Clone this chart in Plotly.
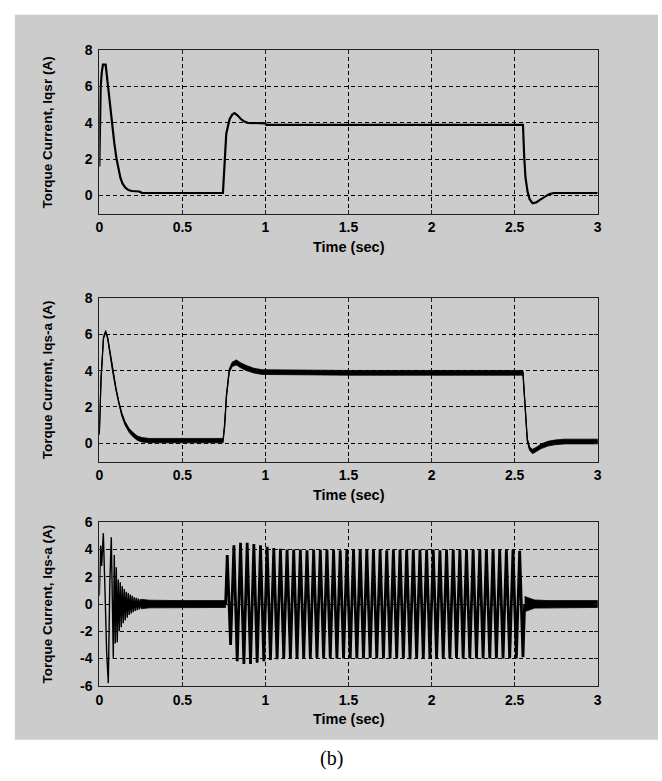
import numpy as np
import plotly.graph_objects as go

W, H = 662, 781

# ---------------- Panel 1: rotor torque current Iqsr ----------------
iqsr_t = [0.000, 0.004, 0.008, 0.015, 0.022, 0.038, 0.045, 0.050, 0.065, 0.079,
          0.090, 0.103, 0.115, 0.127, 0.140, 0.157, 0.175, 0.196, 0.240, 0.256,
          0.744, 0.752, 0.764, 0.784, 0.800, 0.814, 0.833, 0.853, 0.873, 0.893,
          0.950, 1.000, 1.005, 2.550, 2.557, 2.565, 2.577, 2.590, 2.608, 2.630,
          2.650, 2.670, 2.690, 2.710, 2.735, 3.000]
iqsr_v = [1.6, 5.0, 6.0, 6.8, 7.2, 7.2, 6.6, 6.0, 4.9, 3.85,
          2.9, 2.05, 1.45, 0.97, 0.65, 0.43, 0.30, 0.25, 0.22, 0.15,
          0.14, 1.45, 3.4, 4.2, 4.45, 4.53, 4.4, 4.2, 4.07, 4.0,
          3.97, 3.97, 3.89, 3.89, 2.2, 1.0, 0.25, -0.2, -0.43, -0.38,
          -0.25, -0.12, -0.02, 0.08, 0.14, 0.14]

# ---------------- Panel 2: measured torque current Iqs-a ----------------
iqsa_t = [0.000, 0.010, 0.025, 0.038, 0.050, 0.065, 0.080, 0.100, 0.118, 0.135,
          0.155, 0.180, 0.206, 0.230, 0.256, 0.300, 0.745, 0.755, 0.765, 0.782,
          0.800, 0.825, 0.850, 0.883, 0.930, 0.980, 1.500, 2.550, 2.556, 2.563,
          2.576, 2.590, 2.608, 2.630, 2.660, 2.700, 2.740, 2.800, 3.000]
iqsa_v = [0.5, 3.5, 5.8, 6.15, 5.8, 4.9, 4.0, 3.0, 2.2, 1.6,
          1.1, 0.7, 0.45, 0.28, 0.2, 0.15, 0.15, 1.0, 2.6, 4.0,
          4.35, 4.45, 4.3, 4.15, 4.0, 3.92, 3.88, 3.88, 3.0, 2.0,
          0.2, -0.3, -0.45, -0.35, -0.16, -0.02, 0.05, 0.1, 0.1]
# half-width of the ripple riding on the measured current
iqsa_ripple = [0.05, 0.05, 0.05, 0.06, 0.06, 0.07, 0.08, 0.08, 0.09, 0.10,
               0.10, 0.11, 0.12, 0.12, 0.12, 0.12, 0.12, 0.08, 0.08, 0.10,
               0.12, 0.14, 0.14, 0.14, 0.13, 0.13, 0.13, 0.13, 0.08, 0.06,
               0.08, 0.10, 0.12, 0.13, 0.13, 0.13, 0.13, 0.13, 0.13]

# ---------------- Panel 3: phase current ----------------
# start-up transient (successive extrema)
start_t = [0.000, 0.008, 0.014, 0.024, 0.034, 0.044, 0.054, 0.063, 0.072, 0.078,
           0.084, 0.090, 0.096, 0.102, 0.108, 0.114, 0.120, 0.126, 0.132, 0.138,
           0.144, 0.150, 0.156, 0.162, 0.168, 0.174, 0.180, 0.186, 0.192, 0.198,
           0.204, 0.210, 0.216, 0.222, 0.228, 0.234, 0.240, 0.246, 0.252]
start_v = [0.6, 4.3, 2.8, 5.2, 1.0, -3.5, -5.8, 1.5, 4.9, -2.0,
           -4.0, 3.6, -2.9, 2.7, -2.8, 1.8, -2.0, 1.6, -1.7, 1.3,
           -1.4, 1.1, -1.2, 0.9, -1.0, 0.8, -0.8, 0.7, -0.7, 0.6,
           -0.6, 0.5, -0.5, 0.45, -0.45, 0.4, -0.4, 0.35, -0.3]

# loaded interval: one positive and one negative extremum per cycle
burst_begin, burst_end, half_period = 0.760, 2.560, 0.020
burst_peaks = [3.6, 4.3, 4.5, 4.5, 4.4, 4.3, 4.2, 4.1, 4.05, 4.0,
               4.0, 4.0, 3.95, 4.0, 4.0, 4.0, 4.0, 3.95, 4.0, 4.0,
               4.0, 4.0, 4.0, 4.0, 3.95, 4.0, 4.0, 4.0, 4.0, 4.0,
               4.0, 4.0, 3.95, 4.0, 4.0, 4.0, 4.0, 4.0, 4.0, 4.0,
               4.0, 4.0, 4.0, 4.0, 3.9]
burst_troughs = [-3.0, -4.2, -4.4, -4.4, -4.3, -4.2, -4.1, -4.05, -4.0, -4.0,
                 -4.0, -4.0, -4.0, -3.95, -4.0, -4.0, -4.0, -4.0, -4.0, -4.0,
                 -4.0, -3.95, -4.0, -4.0, -4.0, -4.0, -4.0, -4.05, -4.0, -4.0,
                 -4.0, -4.0, -4.0, -4.0, -3.95, -4.0, -4.0, -4.0, -4.0, -4.0,
                 -4.0, -4.0, -4.0, -4.0, -3.9]

# ripple bands where the phase current is near zero
quiet_t = [[0.250, 0.300, 0.500, 0.760], [2.560, 2.575, 2.620, 2.700, 3.000]]
quiet_hw = [[0.35, 0.28, 0.25, 0.25], [0.55, 0.50, 0.30, 0.25, 0.25]]

x_ticks = [0, 0.5, 1, 1.5, 2, 2.5, 3]
x_labels = ["0", "0.5", "1", "1.5", "2", "2.5", "3"]
y_ticks_a = [0, 2, 4, 6, 8]
y_ticks_b = [-6, -4, -2, 0, 2, 4, 6]

y_titles = ["Torque Current, Iqsr (A)",
            "Torque Current, Iqs-a (A)",
            "Torque Current, Iqs-a (A)"]

# ---------------- layout geometry (pixels) ----------------
ax_left, ax_right = 96.5, 601.0
panels_px = [(43, 210), (296, 463), (525, 692)]   # (top, bottom)

def px_x(p):
    return p / W

def px_y(p):
    return 1 - p / H

TICK_FONT = dict(family="Liberation Sans, Arial", size=14, color="black", weight="bold")
TITLE_FONT = dict(family="Liberation Sans, Arial", size=13.5, color="black", weight="bold")
XTITLE_FONT = dict(family="Liberation Sans, Arial", size=14.5, color="black", weight="bold")

fig = go.Figure()

def band(t, c, hw):
    t = list(t)
    up = [a + b for a, b in zip(c, hw)]
    lo = [a - b for a, b in zip(c, hw)]
    return t + t[::-1], up + lo[::-1]

# panel 1
fig.add_trace(go.Scatter(x=iqsr_t, y=iqsr_v, mode="lines",
                         line=dict(color="black", width=2.2),
                         xaxis="x", yaxis="y", showlegend=False))

# panel 2: ripple band + centre line
bx, by = band(iqsa_t, iqsa_v, iqsa_ripple)
fig.add_trace(go.Scatter(x=bx, y=by, mode="lines", fill="toself",
                         fillcolor="black", line=dict(color="black", width=0.8),
                         xaxis="x2", yaxis="y2", showlegend=False))
fig.add_trace(go.Scatter(x=iqsa_t, y=iqsa_v, mode="lines",
                         line=dict(color="black", width=1.3),
                         xaxis="x2", yaxis="y2", showlegend=False))

# panel 3: start-up transient
fig.add_trace(go.Scatter(x=start_t, y=start_v, mode="lines",
                         line=dict(color="black", width=1.4),
                         xaxis="x3", yaxis="y3", showlegend=False))

# panel 3: loaded interval
ext_v = []
for p, q in zip(burst_peaks, burst_troughs):
    ext_v += [p, q]
ext_t = list(burst_begin + half_period * (0.5 + np.arange(len(ext_v))))
burst_t = [burst_begin] + ext_t + [burst_end]
burst_v = [0.0] + ext_v + [0.0]
fig.add_trace(go.Scatter(x=burst_t, y=burst_v, mode="lines",
                         line=dict(color="black", width=2.8),
                         xaxis="x3", yaxis="y3", showlegend=False))

# panel 3: ripple around zero
for qt, qh in zip(quiet_t, quiet_hw):
    bx, by = band(qt, [0.0] * len(qt), qh)
    fig.add_trace(go.Scatter(x=bx, y=by, mode="lines", fill="toself",
                             fillcolor="black", line=dict(color="black", width=0.8),
                             xaxis="x3", yaxis="y3", showlegend=False))

axis_common = dict(showline=True, mirror="ticks", linecolor="#202020", linewidth=1,
                   ticks="inside", ticklen=4, tickcolor="#202020",
                   showgrid=True, gridcolor="black", gridwidth=1, griddash="4px,3px",
                   zeroline=False, tickfont=TICK_FONT, fixedrange=True)

layout = dict(width=W, height=H, margin=dict(l=0, r=0, t=0, b=0),
              paper_bgcolor="white", plot_bgcolor="white", showlegend=False)

y_ranges = [[-1, 8], [-1, 8], [-6, 6]]
y_tickvals = [y_ticks_a, y_ticks_a, y_ticks_b]
annotations = []
for i, ((top, bot), yr, ytv, ytitle) in enumerate(zip(panels_px, y_ranges, y_tickvals, y_titles)):
    sfx = "" if i == 0 else str(i + 1)
    layout["xaxis" + sfx] = dict(axis_common, domain=[px_x(ax_left), px_x(ax_right)],
                                 range=[0, 3], tickvals=x_ticks, ticktext=x_labels,
                                 anchor="y" + sfx, ticklabelstandoff=1)
    layout["yaxis" + sfx] = dict(axis_common, domain=[px_y(bot), px_y(top)],
                                 range=yr, tickvals=ytv,
                                 ticktext=[str(v) for v in ytv],
                                 anchor="x" + sfx, ticklabelstandoff=3)
    annotations.append(dict(text=ytitle, textangle=-90, font=TITLE_FONT,
                            xref="paper", yref="paper", x=px_x(44), y=px_y((top + bot) / 2),
                            xanchor="center", yanchor="middle", showarrow=False))
    annotations.append(dict(text="Time (sec)", font=XTITLE_FONT,
                            xref="paper", yref="paper", x=px_x((ax_left + ax_right) / 2),
                            y=px_y(bot + 34), xanchor="center", yanchor="middle",
                            showarrow=False))

annotations.append(dict(text="(b)", font=dict(family="Liberation Serif, Times New Roman",
                                              size=20, color="black"),
                        xref="paper", yref="paper", x=px_x(331), y=px_y(766),
                        xanchor="center", yanchor="middle", showarrow=False))
layout["annotations"] = annotations
layout["shapes"] = [dict(type="rect", xref="paper", yref="paper", layer="below",
                         x0=px_x(11), x1=1.0, y0=px_y(747), y1=px_y(7),
                         fillcolor="#cccccc", line=dict(width=0))]

fig.update_layout(**layout)
fig.write_html("out.html")
